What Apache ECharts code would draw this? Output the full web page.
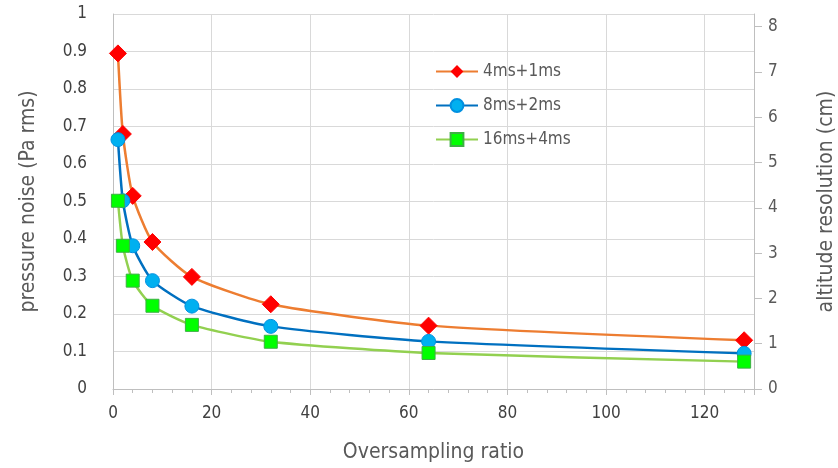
<!DOCTYPE html>
<html><head><meta charset="utf-8">
<script src="https://cdn.jsdelivr.net/npm/echarts@6/dist/echarts.min.js"></script>
<style>html,body{margin:0;padding:0;background:#fff}#c{width:838px;height:468px}</style>
</head><body><div id="c"></div>
<script>
var ratios = [1, 2, 4, 8, 16, 32, 64, 128];
var s4ms = [0.895, 0.68, 0.515, 0.392, 0.299, 0.226, 0.169, 0.13];
var s8ms = [0.665, 0.502, 0.382, 0.289, 0.221, 0.167, 0.127, 0.095];
var s16ms = [0.502, 0.382, 0.289, 0.222, 0.171, 0.126, 0.096, 0.073];
var names = ['4ms+1ms', '8ms+2ms', '16ms+4ms'];

function pts(v){ return ratios.map(function(x,i){ return [x, v[i]]; }); }
var FONT = '"Liberation Sans Narrow", "DejaVu Sans Condensed", "Liberation Sans", sans-serif';
var chart = echarts.init(document.getElementById('c'));
chart.setOption({
  animation: false,
  textStyle: {fontFamily: FONT},
  grid: {left: 113, right: 84, top: 14, bottom: 79, containLabel: false, outerBoundsMode: 'none'},
  legend: {
    orient: 'vertical', left: 430, top: 58, itemGap: 17, itemWidth: 42, itemHeight: 16,
    textStyle: {fontSize: 17, color: '#595959', fontFamily: FONT},
    data: names
  },
  xAxis: {
    type: 'value', min: 0, max: 130, interval: 20,
    name: 'Oversampling ratio', nameLocation: 'middle', nameGap: 53,
    nameTextStyle: {fontSize: 21, color: '#595959', fontFamily: FONT},
    axisLine: {lineStyle: {color: '#BFBFBF'}},
    axisTick: {show: true, length: 6, lineStyle: {color: '#BFBFBF'}},
    minorTick: {show: true, splitNumber: 5, length: 4, lineStyle: {color: '#BFBFBF'}},
    axisLabel: {fontSize: 17, color: '#404040', margin: 16, showMaxLabel: false,
      formatter: function(v){ return v > 120 ? '' : v; }},
    splitLine: {show: true, lineStyle: {color: '#D9D9D9'}}
  },
  yAxis: [{
    type: 'value', min: 0, max: 1, interval: 0.1, position: 'left',
    name: 'pressure noise (Pa rms)', nameLocation: 'middle', nameGap: 74, nameRotate: 90,
    nameTextStyle: {fontSize: 21, color: '#595959', fontFamily: FONT},
    axisLine: {show: true, lineStyle: {color: '#BFBFBF'}},
    axisTick: {show: false},
    axisLabel: {fontSize: 17, color: '#404040', margin: 26,
      formatter: function(v){ return +v.toFixed(1); }},
    splitLine: {show: true, lineStyle: {color: '#D9D9D9'}}
  }, {
    type: 'value', min: 0, max: 8.28, interval: 1, position: 'right',
    name: 'altitude resolution (cm)', nameLocation: 'middle', nameGap: 62, nameRotate: 90,
    nameTextStyle: {fontSize: 21, color: '#595959', fontFamily: FONT},
    axisLine: {show: true, lineStyle: {color: '#BFBFBF'}},
    axisTick: {show: true, length: 8, lineStyle: {color: '#BFBFBF'}},
    axisLabel: {fontSize: 17, color: '#595959', margin: 14, showMaxLabel: false,
      formatter: function(v){ return Math.abs(v - Math.round(v)) < 1e-6 ? Math.round(v) : ''; }},
    splitLine: {show: false}
  }],
  series: [{
    name: names[0], type: 'line', smooth: 0.2, data: pts(s4ms),
    symbol: 'diamond', symbolSize: 17,
    lineStyle: {color: '#ED7D31', width: 2.5},
    itemStyle: {color: '#FF0000', borderColor: '#FF0000'}
  }, {
    name: names[1], type: 'line', smooth: 0.2, data: pts(s8ms),
    symbol: 'circle', symbolSize: 14,
    lineStyle: {color: '#0070C0', width: 2.5},
    itemStyle: {color: '#00B0F0', borderColor: '#0090E0', borderWidth: 1}
  }, {
    name: names[2], type: 'line', smooth: 0.2, data: pts(s16ms),
    symbol: 'rect', symbolSize: 13,
    lineStyle: {color: '#92D050', width: 2.5},
    itemStyle: {color: '#00FF00', borderColor: '#3CB043', borderWidth: 1}
  }]
});
</script></body></html>
